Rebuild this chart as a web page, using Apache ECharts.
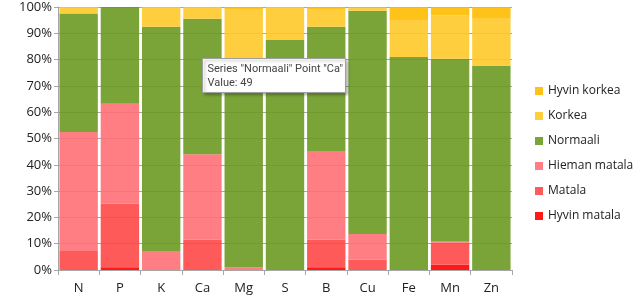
<!DOCTYPE html>
<html>
<head>
<meta charset="utf-8">
<title>Ravinteet</title>
<style>
  html, body { margin: 0; padding: 0; background: #fff; }
  #main { width: 642px; height: 303px; }
</style>
</head>
<body>
<div id="main"></div>
<script src="https://cdn.jsdelivr.net/npm/echarts@6/dist/echarts.min.js"></script>
<script>
var categories = ['N', 'P', 'K', 'Ca', 'Mg', 'S', 'B', 'Cu', 'Fe', 'Mn', 'Zn'];
var yTicks = [0, 10, 20, 30, 40, 50, 60, 70, 80, 90, 100];

// percent shares
var hyvinMatala  = [0,    1,    0,    0,    0,  0,    1,    0,    0,    2,    0];
var matala       = [7.2,  24.2, 0,    11.5, 0,  0,    10.5, 4,    0,    8.5,  0];
var hiemanMatala = [45.3, 38,   7.2,  32.5, 1,  0,    33.7, 9.7,  0,    0.5,  0];
var normaali     = [45,   36.8, 85.3, 51.5, 78, 87.5, 47.3, 84.9, 81,   69.3, 77.7];
var korkea       = [2.5,  0,    7.5,  4.5,  20, 12.5, 6.5,  1,    13.8, 16.5, 18.1];
var hyvinKorkea  = [0,    0,    0,    0,    1,  0,    1,    0.4,  5.2,  3.2,  4.2];

var font = '"Open Sans", "DejaVu Sans", sans-serif';

function bar (name, data, color) {
    return {
        name: name,
        type: 'bar',
        stack: 'total',
        barCategoryGap: '7%',
        data: data,
        itemStyle: { color: color, opacity: 0.9 }
    };
}

var chart = echarts.init(document.getElementById('main'));
chart.setOption({
    animation: false,
    textStyle: { fontFamily: font },
    grid: { left: 58, right: 130, top: 7, bottom: 33 },
    legend: {
        orient: 'vertical',
        left: 530,
        top: 80,
        itemWidth: 8,
        itemHeight: 8,
        itemGap: 13,
        icon: 'rect',
        textStyle: { fontSize: 12, color: '#222', fontFamily: font },
        data: ['Hyvin korkea', 'Korkea', 'Normaali', 'Hieman matala', 'Matala', 'Hyvin matala']
    },
    xAxis: {
        type: 'category',
        data: categories,
        axisLine: { lineStyle: { color: '#a6a6a6' } },
        axisTick: { show: true, length: 5, lineStyle: { color: '#a6a6a6' } },
        axisLabel: { fontSize: 13, color: '#222', margin: 12 }
    },
    yAxis: {
        type: 'value',
        min: yTicks[0],
        max: yTicks[yTicks.length - 1],
        interval: 10,
        axisLine: { show: true, lineStyle: { color: '#a6a6a6' } },
        axisTick: { show: true, length: 4, lineStyle: { color: '#a6a6a6' } },
        axisLabel: { fontSize: 13, color: '#222', margin: 6, formatter: '{value}%' },
        splitLine: { lineStyle: { color: '#a6a6a6' } }
    },
    series: [
        bar('Hyvin matala', hyvinMatala, '#ff0000'),
        bar('Matala', matala, '#ff4848'),
        bar('Hieman matala', hiemanMatala, '#ff7075'),
        bar('Normaali', normaali, '#6c9a22'),
        bar('Korkea', korkea, '#ffc92a'),
        bar('Hyvin korkea', hyvinKorkea, '#ffbb00')
    ],
    // static hover box from the original screenshot
    graphic: [{
        type: 'group',
        left: 202,
        top: 58,
        z: 100,
        children: [{
            type: 'rect',
            z: 100,
            shape: { x: 0, y: 0, width: 143, height: 34 },
            style: { fill: '#fff', stroke: '#a0a0a0', lineWidth: 1, shadowBlur: 3, shadowOffsetX: 2, shadowOffsetY: 2, shadowColor: 'rgba(0,0,0,0.3)' }
        }, {
            type: 'text',
            z: 101,
            x: 5,
            y: 4,
            style: { text: 'Series "Normaali" Point "Ca"\nValue: 49', fill: '#444', font: '11px Roboto, sans-serif', lineHeight: 14 }
        }]
    }]
});
</script>
</body>
</html>
